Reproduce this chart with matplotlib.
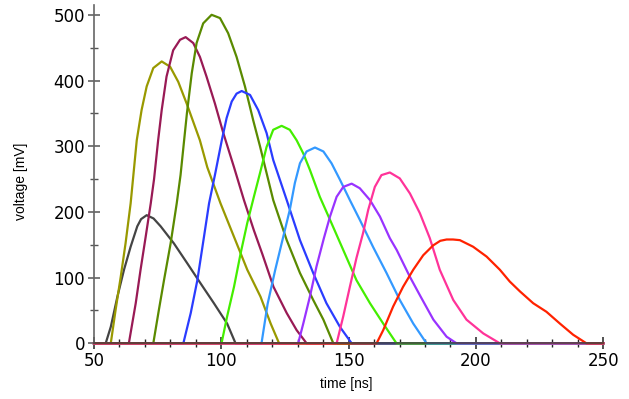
import numpy as np
import matplotlib
matplotlib.use('Agg')
import matplotlib.pyplot as plt
from matplotlib.ticker import MultipleLocator

# pulse shapes (time in ns, voltage in mV)
t1 = [50, 54.6, 56.6, 59.2, 61.8, 64.4, 67.0, 68.5, 70.7, 73.4, 76.2, 81.4, 86.6, 91.9, 97.1,
      102.3, 105.6, 250]
v1 = [0, 0, 25, 71, 112, 147, 178, 189, 195, 190, 178, 152, 122, 91, 61,
      30, 0, 0]

t2 = [50, 56.6, 58.5, 60.5, 62.4, 64.4, 66.8, 68.7, 70.7, 73.3, 76.6, 79.9, 83.1, 86.4, 89.0,
      91.6, 94.5, 99.7, 105.0, 110.2, 115.4, 119.4, 122.7, 250]
v2 = [0, 0, 51, 101, 152, 213, 309, 355, 391, 419, 429, 421, 398, 365, 337,
      309, 268, 213, 162, 112, 71, 30, 0, 0]

t3 = [50, 63.7, 66.4, 68.3, 70.3, 72.3, 73.6, 75.2, 76.6, 78.5, 81.1, 83.8, 86.0, 89.0, 91.6,
      94.2, 97.5, 100.8, 105.0, 108.9, 112.8, 116.2, 120.5, 125.7, 129.6, 133.5, 250]
v3 = [0, 0, 61, 112, 162, 213, 250, 309, 355, 406, 446, 462, 466, 457, 436,
      406, 365, 320, 268, 218, 172, 135, 86, 46, 20, 0, 0]

t4 = [50, 73.3, 75.5, 77.5, 80.1, 82.5, 84.0, 85.3, 86.5, 88.4, 90.3, 92.9, 96.2, 99.5, 102.7,
      106.0, 109.3, 112.5, 115.2, 120.4, 125.7, 130.9, 136.1, 140.1, 144.0, 250]
v4 = [0, 0, 51, 96, 152, 213, 256, 305, 350, 411, 457, 487, 500, 495, 472,
      436, 391, 340, 300, 218, 157, 107, 66, 36, 0, 0]

t5 = [50, 85.1, 88.0, 90.6, 93.2, 95.2, 97.6, 100.2, 102.1, 104.1, 106.0, 108.0, 111.3, 114.5,
      117.8, 120.4, 125.7, 130.9, 136.1, 141.3, 146.6, 151.2, 250]
v5 = [0, 0, 46, 96, 162, 213, 258, 309, 343, 368, 380, 384, 378, 355,
      320, 279, 218, 157, 107, 61, 25, 0, 0]

t6 = [50, 100.1, 102.3, 105.0, 107.6, 110.2, 112.8, 115.2, 117.8, 120.4, 123.7, 126.9, 129.6,
      132.2, 134.8, 138.7, 142.7, 147.9, 153.1, 158.4, 163.6, 168.8, 250]
v6 = [0, 0, 41, 86, 137, 183, 223, 259, 299, 325, 331, 325, 309,
      289, 264, 223, 188, 142, 96, 61, 30, 0, 0]

t7 = [50, 115.8, 118.2, 121.2, 124.2, 126.9, 128.9, 130.9, 133.5, 136.8, 140.1, 143.3, 146.6,
      150.5, 154.4, 159.7, 164.9, 170.1, 175.4, 180.6, 250]
v7 = [0, 0, 60, 112, 160, 203, 244, 274, 292, 298, 292, 274, 249,
      218, 188, 146, 107, 66, 30, 0, 0]

t8 = [50, 130.2, 132.2, 134.8, 137.4, 140.3, 142.7, 145.3, 147.9, 151.2, 154.4, 158.4, 162.3,
      166.2, 168.9, 174.1, 178.3, 183.3, 188.5, 192.4, 250]
v8 = [0, 0, 30, 71, 117, 160, 193, 223, 238, 243, 236, 218, 193,
      160, 142, 101, 71, 36, 10, 0, 0]

t9 = [50, 145.3, 147.9, 150.5, 153.1, 155.7, 157.7, 160.3, 162.9, 166.2, 170.1, 174.1, 178.0,
      181.9, 185.8, 191.1, 196.3, 202.9, 209.4, 250]
v9 = [0, 0, 41, 86, 130, 168, 203, 238, 256, 260, 251, 228, 198,
      160, 112, 66, 36, 15, 0, 0]

t10 = [50, 161.0, 163.6, 167.5, 171.4, 175.4, 179.3, 183.2, 186.0, 188.5, 191.0, 193.7, 198.9,
       204.2, 209.4, 213.3, 217.3, 222.5, 227.7, 233.0, 238.2, 243.4, 250]
v10 = [0, 0, 20, 56, 86, 112, 134, 149, 156, 158, 158, 157, 147,
       132, 112, 94, 79, 61, 48, 30, 13, 0, 0]

times = [t1, t2, t3, t4, t5, t6, t7, t8, t9, t10]
volts = [v1, v2, v3, v4, v5, v6, v7, v8, v9, v10]
colors = ['#444444', '#999900', '#991a55', '#5a8a00', '#2a3cff',
          '#44ee00', '#3399ff', '#9933ff', '#ff3399', '#ff2200']

fig = plt.figure(figsize=(6.29, 3.99), dpi=100)
ax = fig.add_axes([0.1494, 0.1396, 0.8096, 0.848])

for t, v, c in zip(times, volts, colors):
    ax.plot(t, v, color=c, lw=1.6, solid_joinstyle='round', clip_on=False)

ax.set_xlim(50, 250)
ax.set_ylim(0, 515)

for s in ['top', 'right']:
    ax.spines[s].set_visible(False)
ax.spines['left'].set_color('#666666')
ax.spines['bottom'].set_color('#444444')
ax.spines['left'].set_linewidth(1.2)
ax.spines['bottom'].set_linewidth(1.2)

ax.xaxis.set_major_locator(MultipleLocator(50))
ax.xaxis.set_minor_locator(MultipleLocator(10))
ax.yaxis.set_major_locator(MultipleLocator(100))
ax.yaxis.set_minor_locator(MultipleLocator(50))
ax.tick_params(which='major', direction='inout', length=9, width=1.1, color='#555555',
               labelsize=12, pad=2)
ax.tick_params(which='minor', direction='inout', length=6, width=1.0, color='#555555')
ax.tick_params(axis='x', which='both', color='#222222')

ax.set_xlabel('time [ns]', fontsize=10, family='Liberation Sans')
ax.set_ylabel('voltage [mV]', fontsize=10, family='Liberation Sans')
ax.xaxis.set_label_coords(0.495, -0.10)
ax.yaxis.set_label_coords(-0.13, 0.48)

fig.savefig('out.png', dpi=100)
